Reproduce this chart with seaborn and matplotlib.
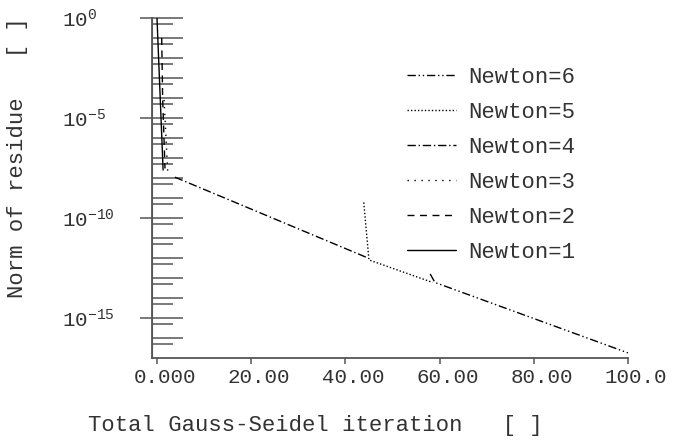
# residue history of the Gauss-Seidel inner solver for each Newton step
import numpy as np
import pandas as pd
import seaborn as sns
from matplotlib import pyplot as plt
from matplotlib import transforms
from matplotlib.ticker import FixedLocator, FuncFormatter, NullLocator

sns.set_style('white')
plt.rcParams['font.family'] = ['Liberation Mono', 'DejaVu Sans Mono']
plt.rcParams['mathtext.fontset'] = 'custom'
plt.rcParams['mathtext.rm'] = 'Liberation Mono'
plt.rcParams['mathtext.it'] = 'Liberation Mono'

# data (x = total GS iteration, y = norm of residue)
newton1_x = [0.0, 1.3]
newton1_y = [1.0, 2.5e-8]
newton2_x = [1.0, 1.2, 1.7]
newton2_y = [1e-1, 1e-4, 3e-8]
newton3_x = [1.5, 2.3]
newton3_y = [8e-5, 1.6e-8]
newton4_x = [3.8, 44.8]
newton4_y = [1.1e-8, 1e-12]
newton5_x = [43.9, 45.0, 58.5]
newton5_y = [6e-10, 8e-13, 6e-14]
newton6_x = [58.0, 59.0, 100.0]
newton6_y = [1.6e-13, 6e-14, 1.8e-17]

labels = ['Newton=1', 'Newton=2', 'Newton=3', 'Newton=4', 'Newton=5', 'Newton=6']
styles = ['-', (0, (5, 4)), (0, (1, 4)), (0, (6, 2, 1, 2)), (0, (1, 1.5)), (0, (6, 2, 1, 2, 1, 2))]
xs = [newton1_x, newton2_x, newton3_x, newton4_x, newton5_x, newton6_x]
ys = [newton1_y, newton2_y, newton3_y, newton4_y, newton5_y, newton6_y]

xticks = [0, 20, 40, 60, 80, 100]
xticklabels = ['0.000', '20.00', '40.00', '60.00', '80.00', '100.0']

grey = '#555555'
txt = '#333333'

fig = plt.figure(figsize=(6.75, 4.41), dpi=100)
ax = fig.add_axes([152 / 675, 83 / 441, 476 / 675, 340 / 441])

for x, y, lab, ls in zip(xs, ys, labels, styles):
    df = pd.DataFrame({'x': x, 'y': y})
    sns.lineplot(data=df, x='x', y='y', ax=ax, color='black', linewidth=1.0,
                 linestyle=ls, sort=False, estimator=None, label=lab)

ax.set_yscale('log')
ax.set_ylim(1e-17, 1)
ax.set_xlim(-1.06, 100)

# y ticks: long inside tick each decade, short one at 5x10^k
ax.yaxis.set_major_locator(FixedLocator(10.0 ** np.arange(-16, 1)))
ax.yaxis.set_minor_locator(FixedLocator(5 * 10.0 ** np.arange(-17, 0)))
ax.yaxis.set_major_formatter(FuncFormatter(
    lambda v, p: r'$\mathregular{10^{%d}}$' % round(np.log10(v)) if round(np.log10(v)) % 5 == 0 else ''))
ax.yaxis.set_minor_formatter(FuncFormatter(lambda v, p: ''))
ax.tick_params(axis='y', which='major', direction='in', length=22, width=1.1, color=grey,
               pad=65, labelsize=15, labelcolor=txt, left=True)
ax.tick_params(axis='y', which='minor', direction='in', length=15, width=1.1, color=grey, left=True)
for t in ax.get_yticklabels():
    t.set_horizontalalignment('left')

# short outside ticks at the labelled decades
sec = ax.secondary_yaxis('left')
sec.set_yticks([1, 1e-5, 1e-10, 1e-15])
sec.yaxis.set_minor_locator(NullLocator())
sec.tick_params(axis='y', direction='out', length=8.5, width=1.1, color=grey, labelleft=False)
sec.spines['left'].set_color(grey)

ax.set_xticks(xticks)
ax.set_xticklabels(xticklabels)
ax.tick_params(axis='x', direction='out', length=4.5, width=1.1, color=grey,
               labelsize=15, labelcolor=txt, bottom=True, pad=3)
# labels sit a little right of their ticks
shift = transforms.ScaledTranslation(8 / 100, 0, fig.dpi_scale_trans)
for t in ax.get_xticklabels():
    t.set_transform(t.get_transform() + shift)

sns.despine(ax=ax)
for s in ['left', 'bottom']:
    ax.spines[s].set_color(grey)
    ax.spines[s].set_linewidth(1.3)

ax.set_xlabel('')
ax.set_ylabel('')
fig.text(315 / 675, 1 - 425 / 441, 'Total Gauss-Seidel iteration   [ ]', ha='center', va='center',
         fontsize=16, color=txt)
fig.text(18 / 675, 1 - 158 / 441, 'Norm of residue   [ ]', ha='center', va='center',
         rotation=90, fontsize=16, color=txt)

h, l = ax.get_legend_handles_labels()
ax.legend(h[::-1], l[::-1], loc='upper left', bbox_to_anchor=((407 - 152) / 476, (358 - 67) / 340),
          frameon=False, fontsize=16, handlelength=2.2, handletextpad=0.55, labelspacing=0.63,
          borderaxespad=0, borderpad=0, labelcolor=txt)

plt.savefig('out.png', dpi=100)
